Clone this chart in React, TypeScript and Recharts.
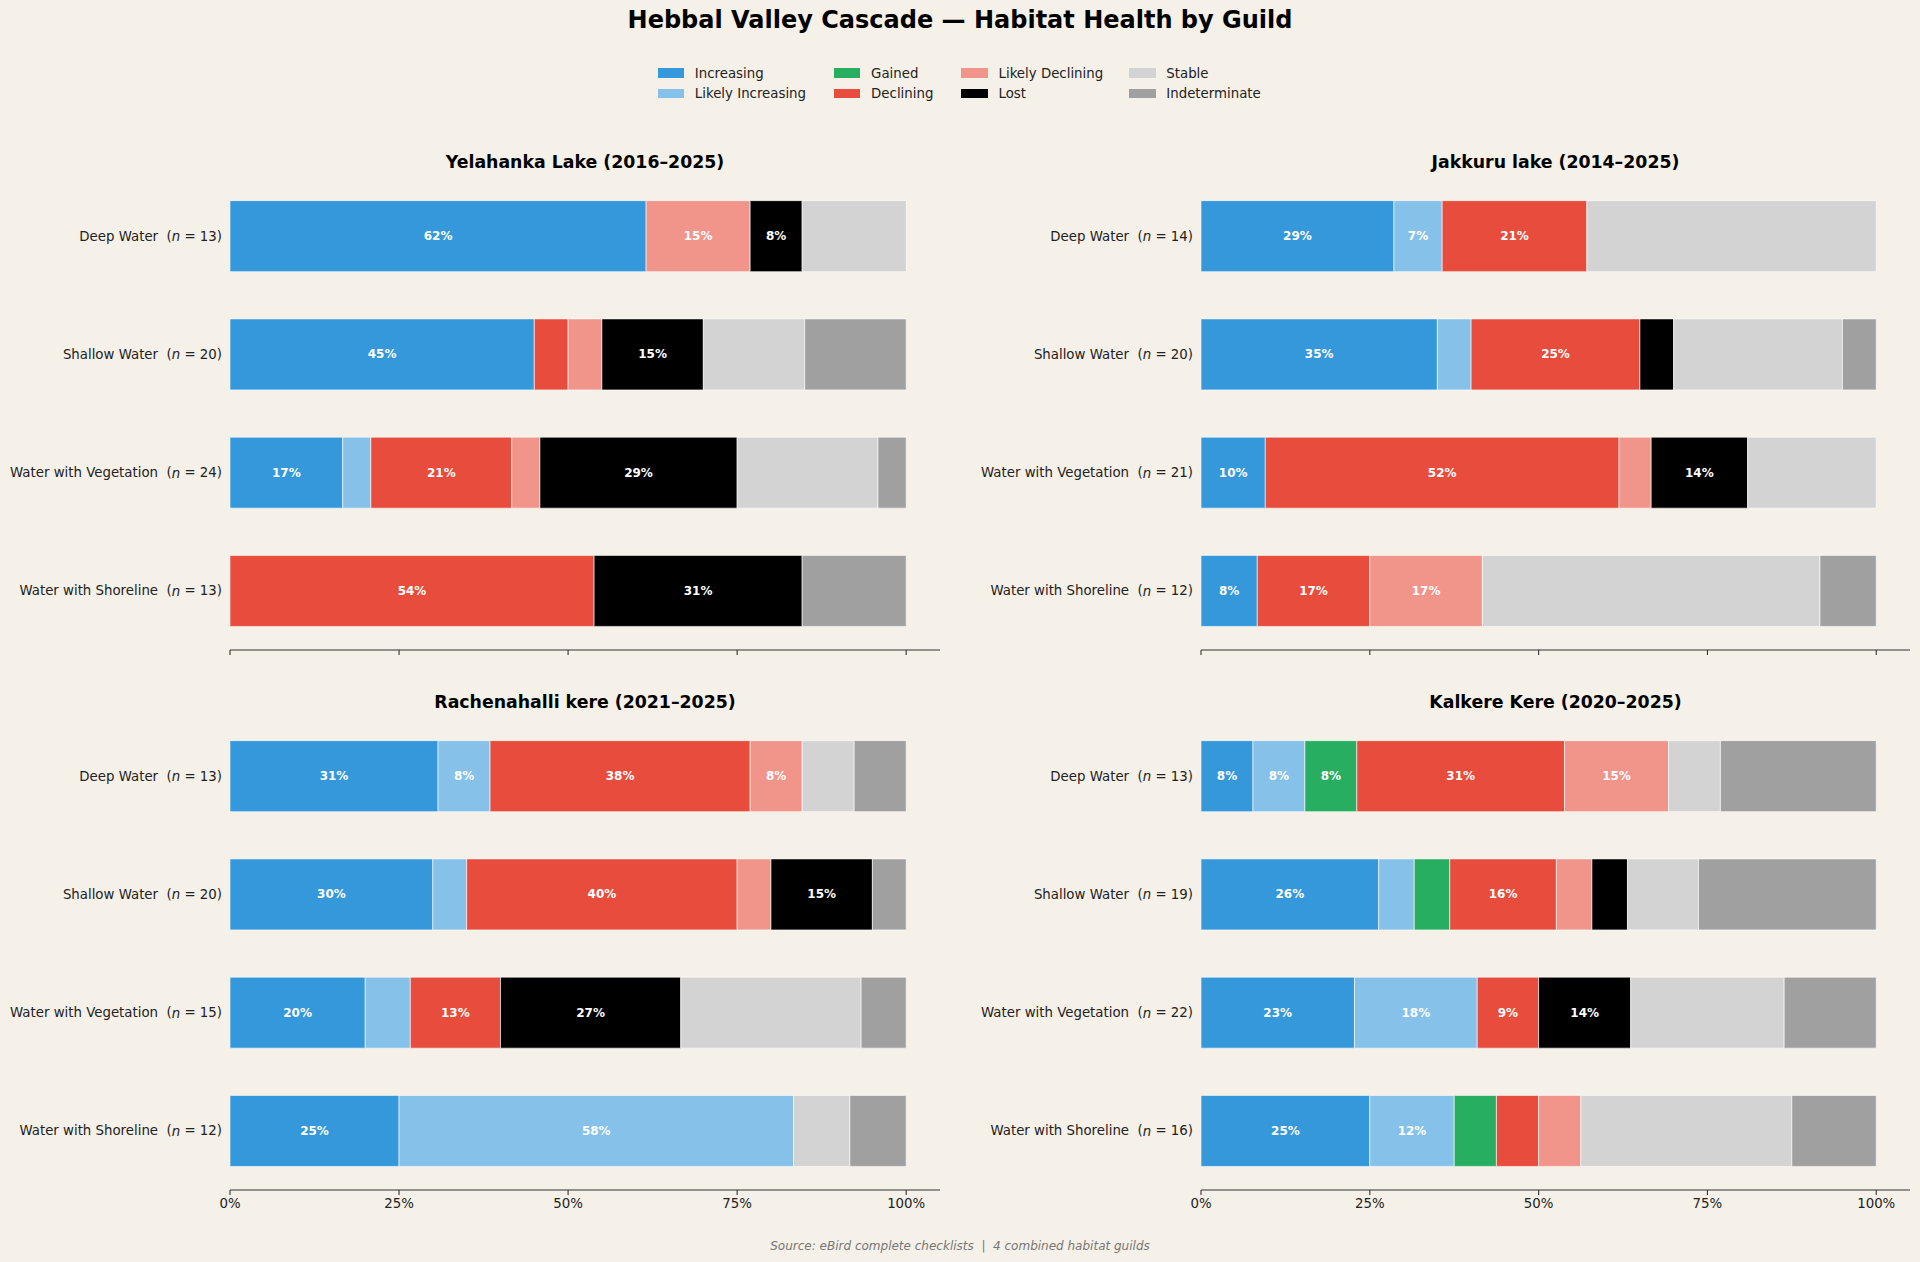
import React from 'react';
import { BarChart, Bar, XAxis, YAxis, LabelList } from 'recharts';

const statuses = ['Increasing', 'Likely Increasing', 'Gained', 'Declining', 'Likely Declining', 'Lost', 'Stable', 'Indeterminate'];
const statusColors = ['#3498db', '#85c1e9', '#27ae60', '#e74c3c', '#f1948a', '#000000', '#d3d3d3', '#a0a0a0'];
const labeledStatuses = ['Increasing', 'Likely Increasing', 'Gained', 'Declining', 'Likely Declining', 'Lost'];
const guilds = ['Deep Water', 'Shallow Water', 'Water with Vegetation', 'Water with Shoreline'];
const xTicks = [0, 25, 50, 75, 100];

// counts per guild, in status order
const yelahankaCounts = [
  [8, 0, 0, 0, 2, 1, 2, 0],
  [9, 0, 0, 1, 1, 3, 3, 3],
  [4, 1, 0, 5, 1, 7, 5, 1],
  [0, 0, 0, 7, 0, 4, 0, 2],
];
const jakkuruCounts = [
  [4, 1, 0, 3, 0, 0, 6, 0],
  [7, 1, 0, 5, 0, 1, 5, 1],
  [2, 0, 0, 11, 1, 3, 4, 0],
  [1, 0, 0, 2, 2, 0, 6, 1],
];
const rachenahalliCounts = [
  [4, 1, 0, 5, 1, 0, 1, 1],
  [6, 1, 0, 8, 1, 3, 0, 1],
  [3, 1, 0, 2, 0, 4, 4, 1],
  [3, 7, 0, 0, 0, 0, 1, 1],
];
const kalkereCounts = [
  [1, 1, 1, 4, 2, 0, 1, 3],
  [5, 1, 1, 3, 1, 1, 2, 5],
  [5, 4, 0, 2, 0, 3, 5, 3],
  [4, 2, 1, 1, 1, 0, 5, 2],
];

const FONT = "'DejaVu Sans', sans-serif";
const BG = '#f5f0e8';

function buildRows(counts: number[][]) {
  return guilds.map((g, i) => {
    const n = counts[i].reduce((a, b) => a + b, 0);
    const row: any = { guild: g, n };
    statuses.forEach((s, j) => {
      row[s] = (counts[i][j] / n) * 100;
    });
    return row;
  });
}

function roundHalfEven(v: number) {
  const f = Math.floor(v);
  const d = v - f;
  if (Math.abs(d - 0.5) < 1e-9) return f % 2 === 0 ? f : f + 1;
  return Math.round(v);
}

const SegmentLabel = (props: any) => {
  const { x, y, width, height, value } = props;
  if (value == null || value < 7) return null;
  return (
    <text
      x={x + width / 2}
      y={y + height / 2}
      textAnchor="middle"
      dominantBaseline="central"
      fill="#ffffff"
      fontSize={12}
      fontWeight="bold"
      fontFamily={FONT}
    >
      {roundHalfEven(value) + '%'}
    </text>
  );
};

const makeYTick = (rows: any[]) => (props: any) => {
  const { x, y, payload } = props;
  const row = rows.find((r) => r.guild === payload.value);
  return (
    <text
      x={x}
      y={y}
      textAnchor="end"
      dominantBaseline="central"
      fontSize={13.33}
      fill="#222"
      fontFamily={FONT}
      style={{ whiteSpace: 'pre' }}
    >
      {payload.value + '  ('}
      <tspan fontStyle="italic">n</tspan>
      {' = ' + (row ? row.n : '') + ')'}
    </text>
  );
};

const EmptyTick = () => <g />;

type PanelProps = {
  title: string;
  counts: number[][];
  left: number;
  top: number;
  yWidth: number;
  rightMargin: number;
  showTickLabels: boolean;
};

const PLOT_H = 473;
const XAXIS_H = 30;

function Panel({ title, counts, left, top, yWidth, rightMargin, showTickLabels }: PanelProps) {
  const rows = buildRows(counts);
  const plotLeft = left + yWidth;
  const plotRight = left + 960 - rightMargin;
  return (
    <>
      <div
        style={{
          position: 'absolute',
          left: (plotLeft + plotRight) / 2,
          top: top - 15.5,
          transform: 'translate(-50%, -50%)',
          fontFamily: FONT,
          fontWeight: 'bold',
          fontSize: 17.33,
          color: '#000',
          whiteSpace: 'nowrap',
        }}
      >
        {title}
      </div>
      <div style={{ position: 'absolute', left, top }}>
        <BarChart
          width={960}
          height={PLOT_H + XAXIS_H}
          data={rows}
          layout="vertical"
          margin={{ top: 0, right: rightMargin, bottom: 0, left: 0 }}
          barCategoryGap="20%"
        >
          <XAxis
            type="number"
            domain={[0, 105]}
            ticks={xTicks}
            allowDataOverflow
            height={XAXIS_H}
            tickSize={5}
            tickMargin={4}
            axisLine={{ stroke: '#333', strokeWidth: 1.1 }}
            tickLine={{ stroke: '#333', strokeWidth: 1.1 }}
            tick={showTickLabels ? { fill: '#222', fontSize: 13.33, fontFamily: FONT } : EmptyTick}
            tickFormatter={(v: number) => v + '%'}
          />
          <YAxis
            type="category"
            dataKey="guild"
            width={yWidth}
            axisLine={false}
            tickLine={false}
            tickSize={0}
            tickMargin={8}
            tick={makeYTick(rows)}
          />
          {statuses.map((s, j) => (
            <Bar
              key={s}
              dataKey={s}
              stackId="a"
              fill={statusColors[j]}
              stroke="#ffffff"
              strokeWidth={0.6}
              isAnimationActive={false}
            >
              {labeledStatuses.includes(s) ? <LabelList dataKey={s} content={SegmentLabel} /> : null}
            </Bar>
          ))}
        </BarChart>
      </div>
    </>
  );
}

const legendColumns = [657.5, 833.8, 961.2, 1129];
const legendRows = [73, 93.3];

function Legend() {
  return (
    <>
      {statuses.map((s, i) => {
        const col = Math.floor(i / 2);
        const r = i % 2;
        const x = legendColumns[col];
        const y = legendRows[r];
        return (
          <React.Fragment key={s}>
            <div
              style={{
                position: 'absolute',
                left: x,
                top: y - 4.67,
                width: 26.67,
                height: 9.33,
                background: statusColors[i],
              }}
            />
            <div
              style={{
                position: 'absolute',
                left: x + 37.3,
                top: y,
                transform: 'translateY(-50%)',
                fontFamily: FONT,
                fontSize: 13.33,
                color: '#222',
                whiteSpace: 'nowrap',
              }}
            >
              {s}
            </div>
          </React.Fragment>
        );
      })}
    </>
  );
}

export default function App() {
  return (
    <div
      style={{
        position: 'absolute',
        left: 0,
        top: 0,
        width: 1920,
        height: 1262,
        background: BG,
        overflow: 'hidden',
      }}
    >
      <div
        style={{
          position: 'absolute',
          left: 960,
          top: 20,
          transform: 'translate(-50%, -50%)',
          fontFamily: FONT,
          fontWeight: 'bold',
          fontSize: 24,
          color: '#000',
          whiteSpace: 'nowrap',
        }}
      >
        Hebbal Valley Cascade — Habitat Health by Guild
      </div>
      <Legend />
      <Panel title="Yelahanka Lake (2016–2025)" counts={yelahankaCounts} left={0} top={177} yWidth={230} rightMargin={20} showTickLabels={false} />
      <Panel title="Jakkuru lake (2014–2025)" counts={jakkuruCounts} left={960} top={177} yWidth={241} rightMargin={10} showTickLabels={false} />
      <Panel title="Rachenahalli kere (2021–2025)" counts={rachenahalliCounts} left={0} top={717} yWidth={230} rightMargin={20} showTickLabels={true} />
      <Panel title="Kalkere Kere (2020–2025)" counts={kalkereCounts} left={960} top={717} yWidth={241} rightMargin={10} showTickLabels={true} />
      <div
        style={{
          position: 'absolute',
          left: 960,
          top: 1246,
          transform: 'translate(-50%, -50%)',
          fontFamily: FONT,
          fontStyle: 'italic',
          fontSize: 12,
          color: '#777',
          whiteSpace: 'pre',
        }}
      >
        {'Source: eBird complete checklists  |  4 combined habitat guilds'}
      </div>
    </div>
  );
}
